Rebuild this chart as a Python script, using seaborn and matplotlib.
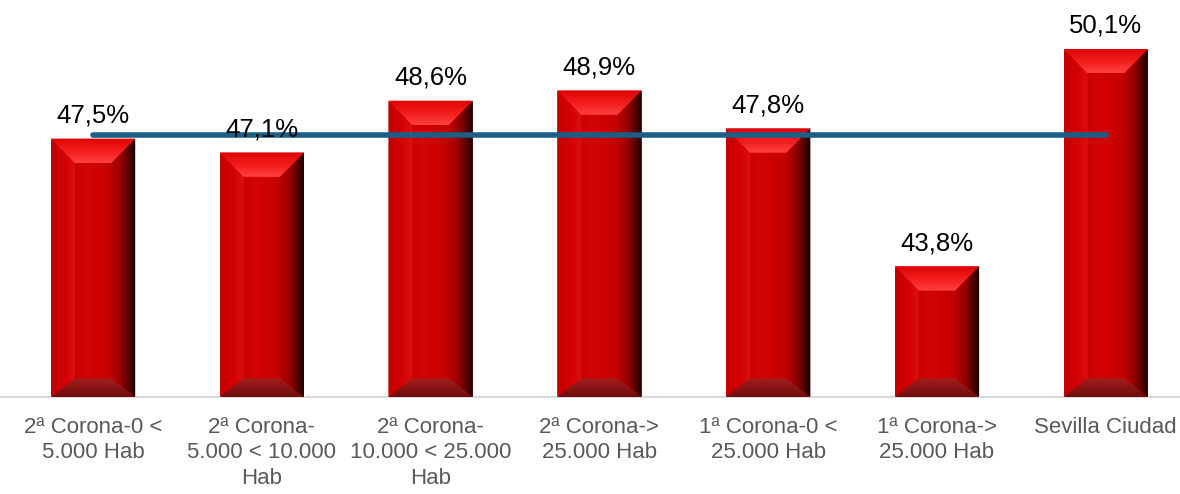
import numpy as np
import pandas as pd
import matplotlib
matplotlib.use("Agg")
import matplotlib.pyplot as plt
import seaborn as sns
from matplotlib.patches import Polygon
from matplotlib.colors import LinearSegmentedColormap

categories = ["2ª Corona-0 <\n5.000 Hab",
              "2ª Corona-\n5.000 < 10.000\nHab",
              "2ª Corona-\n10.000 < 25.000\nHab",
              "2ª Corona->\n25.000 Hab",
              "1ª Corona-0 <\n25.000 Hab",
              "1ª Corona->\n25.000 Hab",
              "Sevilla Ciudad"]
values = [47.5, 47.1, 48.6, 48.9, 47.8, 43.8, 50.1]
average = [47.6, 47.6, 47.6, 47.6, 47.6, 47.6, 47.6]

sns.set_theme(style="white")
plt.rcParams["font.family"] = ["Liberation Sans", "DejaVu Sans"]

fig = plt.figure(figsize=(11.8, 4.94), dpi=100)
ax = fig.add_axes([0, 0.196, 1, 0.804])

df = pd.DataFrame({"cat": categories, "val": values, "avg": average})
sns.barplot(data=df, x="cat", y="val", color="#CC0000", saturation=1,
            width=0.5, ax=ax, zorder=2)
bars = list(ax.patches)

ax.set_xlim(-0.551, 6.44)
ax.set_ylim(40, 51.52)

# average line
sns.lineplot(x=np.arange(len(df)), y=df["avg"].values, ax=ax, color="#1B5F86",
             linewidth=4.0, solid_capstyle="round", zorder=5)

# value labels
lbls = [f"{v:.1f}%".replace(".", ",") for v in values]
ax.bar_label(ax.containers[0], labels=lbls, padding=8, fontsize=18.5,
             color="#000000", zorder=6)

fig.canvas.draw()
inv = ax.transData.inverted()


def grad_poly(verts_px, colors, direction):
    verts = inv.transform(np.array(verts_px))
    poly = Polygon(verts, closed=True, transform=ax.transData,
                   facecolor="none", edgecolor="none")
    ax.add_artist(poly)
    xs, ys = verts[:, 0], verts[:, 1]
    extent = [xs.min(), xs.max(), ys.min(), ys.max()]
    cmap = LinearSegmentedColormap.from_list("g", colors)
    if direction == "h":
        arr = np.linspace(0, 1, 256)[None, :]
    else:
        arr = np.linspace(0, 1, 256)[:, None]
    im = ax.imshow(arr, cmap=cmap, extent=extent, origin="lower",
                   aspect="auto", interpolation="bilinear", zorder=3)
    im.set_clip_path(poly)


ybot = ax.get_ylim()[0]
for p in bars:
    x0, y0 = p.get_x(), max(p.get_y(), ybot)
    x1, y1 = p.get_x() + p.get_width(), p.get_y() + p.get_height()
    L, B = ax.transData.transform((x0, y0))
    R, T = ax.transData.transform((x1, y1))
    bw = R - L
    s = 0.285 * bw
    st = 0.29 * bw
    sb = 0.225 * bw
    xl, xr, yt, yb = L + s, R - s, T - st, B + sb
    # center
    grad_poly([(xl, yb), (xr, yb), (xr, yt), (xl, yt)],
              ["#C80000", "#D40404", "#CC0000", "#C00000"], "h")
    # left
    grad_poly([(L, T), (xl, yt), (xl, yb), (L, B)],
              ["#C20000", "#D20000", "#E01010"], "h")
    # right
    grad_poly([(R, T), (xr, yt), (xr, yb), (R, B)],
              ["#B80000", "#A00000", "#600000", "#100000"], "h")
    # top
    grad_poly([(L, T), (R, T), (xr, yt), (xl, yt)],
              ["#FF4040", "#F21C1C", "#DC0404"], "v")
    # bottom
    grad_poly([(L, B), (R, B), (xr, yb), (xl, yb)],
              ["#6E0C0C", "#8A1616", "#A41C1C"], "v")

ax.set_xlim(-0.551, 6.44)
ax.set_ylim(40, 51.52)

for side in ["top", "right", "left"]:
    ax.spines[side].set_visible(False)
ax.spines["bottom"].set_color("#D9D9D9")
ax.spines["bottom"].set_linewidth(1.5)
ax.spines["bottom"].set_zorder(1)
ax.set_yticks([])
ax.set_xlabel("")
ax.set_ylabel("")
ax.tick_params(axis="x", length=0, pad=14, labelsize=16, labelcolor="#595959")
for t in ax.get_xticklabels():
    t.set_linespacing(1.3)

fig.savefig("out.png", dpi=100)
